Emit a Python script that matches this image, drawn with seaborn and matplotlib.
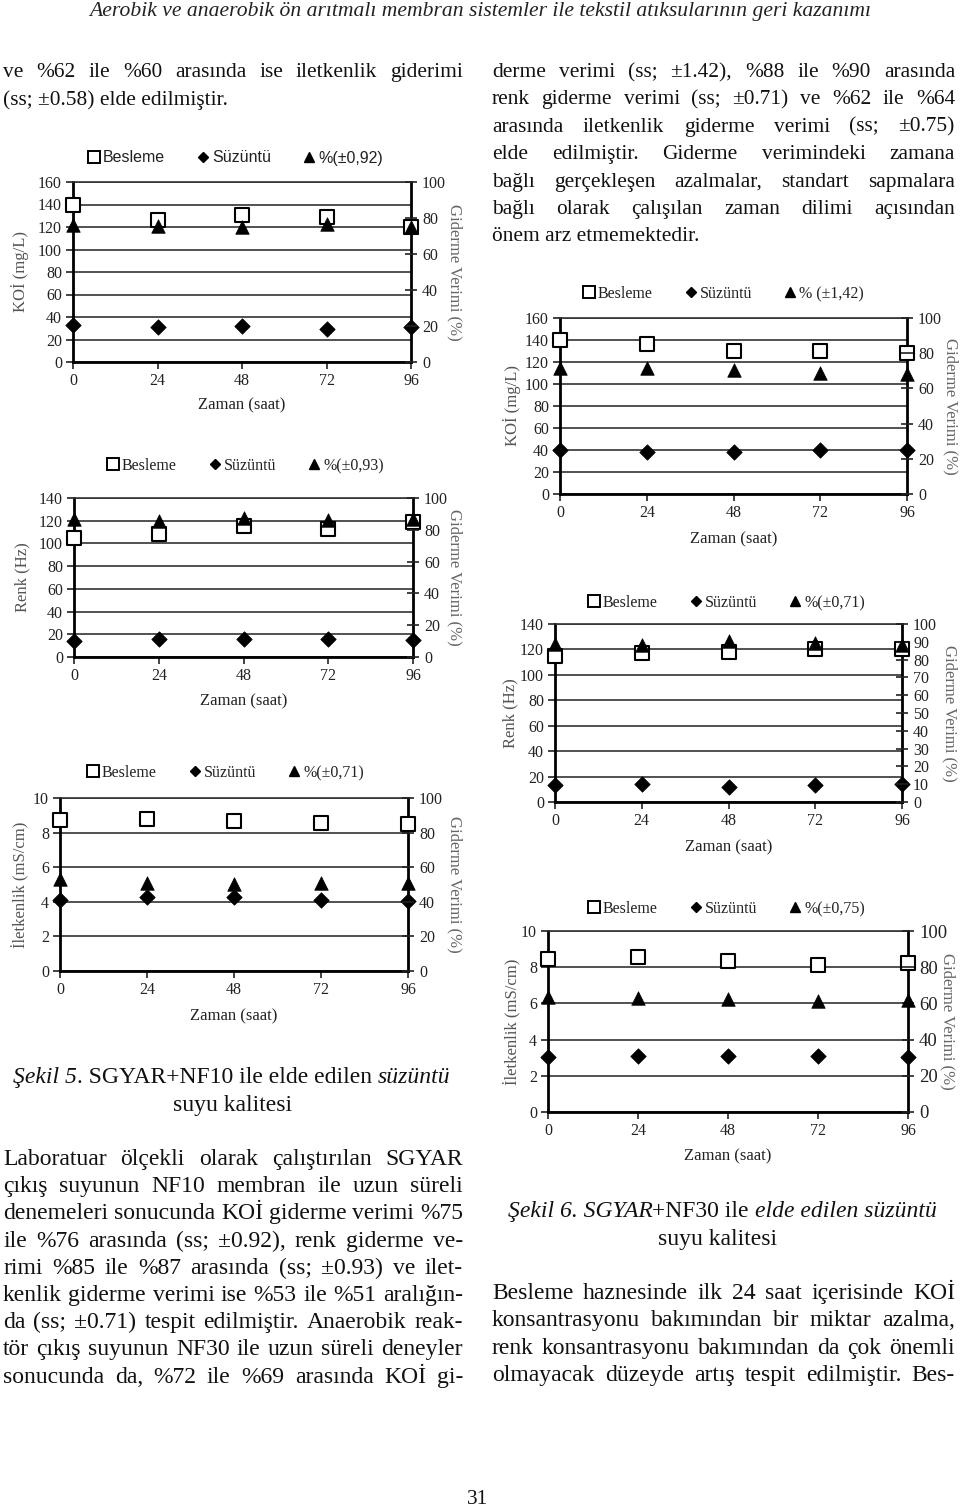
import matplotlib
matplotlib.use("Agg")
import matplotlib.pyplot as plt
from matplotlib.lines import Line2D
import seaborn as sns
import pandas as pd

# ---------------- data ----------------
hours = [0, 24, 48, 72, 96]

# Sekil 5 (SGYAR+NF10)
koi10_besleme = [140, 126, 131, 129, 120]
koi10_suzuntu = [33, 31, 32, 29, 31]
koi10_verim = [76, 75.5, 75, 76.5, 75]

renk10_besleme = [105, 108, 115, 113, 119]
renk10_suzuntu = [14, 16, 15.5, 16, 15]
renk10_verim = [86.7, 85.3, 87.4, 86.3, 86.8]

ilet10_besleme = [8.7, 8.8, 8.65, 8.55, 8.5]
ilet10_suzuntu = [4.1, 4.25, 4.3, 4.1, 4.05]
ilet10_verim = [53, 51, 50.5, 51, 51]

# Sekil 6 (SGYAR+NF30)
koi30_besleme = [140, 136, 130, 130, 128]
koi30_suzuntu = [40, 38.5, 38.5, 40, 40]
koi30_verim = [71.5, 71.5, 70.6, 69, 68.3]

renk30_besleme = [115, 117, 118, 120, 120]
renk30_suzuntu = [13.5, 14.5, 12, 13.5, 14.5]
renk30_verim = [88.9, 88.3, 90.2, 89.3, 88.3]

ilet30_besleme = [8.45, 8.55, 8.35, 8.1, 8.25]
ilet30_suzuntu = [3.05, 3.1, 3.1, 3.1, 3.05]
ilet30_verim = [63.8, 63.2, 62.5, 61.4, 61.9]

legend_labels = ["Besleme", "Süzüntü"]
verim_labels = ["%(±0,92)", "%(±0,93)", "%(±0,71)", "% (±1,42)", "%(±0,71)", "%(±0,75)"]
left_labels = ["KOİ (mg/L)", "Renk (Hz)", "İletkenlik (mS/cm)"]
right_label = "Giderme Verimi (%)"
x_label = "Zaman (saat)"

header = "Aerobik ve anaerobik ön arıtmalı membran sistemler ile tekstil atıksularının geri kazanımı"
left_top = ["ve %62 ile %60 arasında ise iletkenlik giderimi",
            "(ss; ±0.58) elde edilmiştir."]
right_top = ["derme verimi (ss; ±1.42), %88 ile %90 arasında",
             "renk giderme verimi (ss; ±0.71) ve %62 ile %64",
             "arasında iletkenlik giderme verimi (ss; ±0.75)",
             "elde edilmiştir. Giderme verimindeki zamana",
             "bağlı gerçekleşen azalmalar, standart sapmalara",
             "bağlı olarak çalışılan zaman dilimi açısından",
             "önem arz etmemektedir."]
left_bottom = ["Laboratuar ölçekli olarak çalıştırılan SGYAR",
               "çıkış suyunun NF10 membran ile uzun süreli",
               "denemeleri sonucunda KOİ giderme verimi %75",
               "ile %76 arasında (ss; ±0.92), renk giderme ve-",
               "rimi %85 ile %87 arasında (ss; ±0.93) ve ilet-",
               "kenlik giderme verimi ise %53 ile %51 aralığın-",
               "da (ss; ±0.71) tespit edilmiştir. Anaerobik reak-",
               "tör çıkış suyunun NF30 ile uzun süreli deneyler",
               "sonucunda da, %72 ile %69 arasında KOİ gi-"]
right_bottom = ["Besleme haznesinde ilk 24 saat içerisinde KOİ",
                "konsantrasyonu bakımından bir miktar azalma,",
                "renk konsantrasyonu bakımından da çok önemli",
                "olmayacak düzeyde artış tespit edilmiştir. Bes-"]

# ---------------- setup ----------------
sns.set_theme(style="white")
SERIF = ["Liberation Serif", "DejaVu Serif"]
SANS = ["Liberation Sans", "DejaVu Sans"]
plt.rcParams["font.family"] = SERIF

W, H = 960, 1506
fig = plt.figure(figsize=(W / 100, H / 100), dpi=100)
fig.patch.set_facecolor("white")
renderer = fig.canvas.get_renderer()


def fx(x):
    return x / W


def fy(y):
    return 1 - y / H


def text_width(s, **kw):
    t = fig.text(0, 0, s, **kw)
    w = t.get_window_extent(renderer).width
    t.remove()
    return w


BODY_TOP = dict(fontsize=15.4, family=SERIF, color="#111111")
BODY_BOT = dict(fontsize=17.0, family=SERIF, color="#111111")
CAP = dict(fontsize=17.0, family=SERIF, color="#111111")


def draw_line(line, x0, x1, y, justify=True, **kw):
    words = line.split(" ")
    if not justify or len(words) == 1:
        fig.text(fx(x0), fy(y), line, ha="left", va="baseline", **kw)
        return
    widths = [text_width(w, **kw) for w in words]
    gap = (x1 - x0 - sum(widths)) / (len(words) - 1)
    x = x0
    for w, wd in zip(words, widths):
        fig.text(fx(x), fy(y), w, ha="left", va="baseline", **kw)
        x += wd + gap


def draw_paragraph(lines, x0, x1, y0, step, last_justified=True, **kw):
    for i, ln in enumerate(lines):
        just = True if (i < len(lines) - 1 or last_justified) else False
        draw_line(ln, x0, x1, y0 + i * step, justify=just, **kw)


def draw_runs(runs, cx, y, **kw):
    space = text_width("a a", **kw) - text_width("aa", **kw)
    widths = []
    for txt, ital, sp in runs:
        widths.append(text_width(txt, style="italic" if ital else "normal", **kw))
    total = sum(widths) + space * sum(1 for r in runs if r[2])
    x = cx - total / 2
    for (txt, ital, sp), wd in zip(runs, widths):
        fig.text(fx(x), fy(y), txt, ha="left", va="baseline",
                 style="italic" if ital else "normal", **kw)
        x += wd + (space if sp else 0)


# header (fit to width)
hw = text_width(header, fontsize=12, style="italic", family=SERIF)
hfs = 12 * 780 / hw
fig.text(fx(480), fy(16), header, ha="center", va="baseline", fontsize=hfs,
         style="italic", family=SERIF, color="#222222")

# body text
draw_paragraph(left_top, 3, 463, 77, 27.5, last_justified=False, **BODY_TOP)
draw_paragraph(right_top, 492, 955, 77, 27.4, last_justified=False, **BODY_TOP)
draw_paragraph(left_bottom, 3, 463, 1165, 27.2, last_justified=True, **BODY_BOT)
draw_paragraph(right_bottom, 492, 955, 1299, 27.3, last_justified=True, **BODY_BOT)

draw_runs([("Şekil 5", True, False), (". SGYAR+NF10 ile elde edilen", False, True),
           ("süzüntü", True, False)], 232, 1083, **CAP)
draw_runs([("suyu kalitesi", False, False)], 233, 1111, **CAP)
draw_runs([("Şekil 6. SGYAR", True, False), ("+NF30 ile", False, True),
           ("elde edilen süzüntü", True, False)], 722, 1217, **CAP)
draw_runs([("suyu kalitesi", False, False)], 718, 1245, **CAP)

fig.text(fx(478), fy(1504), "31", ha="center", va="baseline", **BODY_TOP)

# ---------------- charts ----------------
charts = [
    dict(box=(73, 411, 182, 362), ymax=160, ystep=20, rstep=20, yl=left_labels[0],
         data=(koi10_besleme, koi10_suzuntu, koi10_verim), vlab=verim_labels[0],
         leg=(235, 158), legfont=SANS, ylx=20, rlx=455, xly=405, rfs=11.5),
    dict(box=(74, 413, 498, 657), ymax=140, ystep=20, rstep=20, yl=left_labels[1],
         data=(renk10_besleme, renk10_suzuntu, renk10_verim), vlab=verim_labels[1],
         leg=(245, 466), legfont=SERIF, ylx=22, rlx=455, xly=701, rfs=11.5),
    dict(box=(60, 408, 798, 971), ymax=10, ystep=2, rstep=20, yl=left_labels[2],
         data=(ilet10_besleme, ilet10_suzuntu, ilet10_verim), vlab=verim_labels[2],
         leg=(225, 773), legfont=SERIF, ylx=20, rlx=455, xly=1016, rfs=11.5),
    dict(box=(560, 907, 318, 494), ymax=160, ystep=20, rstep=20, yl=left_labels[0],
         data=(koi30_besleme, koi30_suzuntu, koi30_verim), vlab=verim_labels[3],
         leg=(723, 294), legfont=SERIF, ylx=512, rlx=951, xly=539, rfs=11.5),
    dict(box=(555, 902, 624, 802), ymax=140, ystep=20, rstep=10, yl=left_labels[1],
         data=(renk30_besleme, renk30_suzuntu, renk30_verim), vlab=verim_labels[4],
         leg=(726, 603), legfont=SERIF, ylx=510, rlx=950, xly=847, rfs=11.5),
    dict(box=(548, 908, 931, 1112), ymax=10, ystep=2, rstep=20, yl=left_labels[2],
         data=(ilet30_besleme, ilet30_suzuntu, ilet30_verim), vlab=verim_labels[5],
         leg=(726, 909), legfont=SERIF, ylx=512, rlx=948, xly=1156, rfs=13.5),
]

TICKFS = 11.5
LABFS = 12
for c in charts:
    x0, x1, yt, yb = c["box"]
    ax = fig.add_axes([fx(x0), fy(yb), (x1 - x0) / W, (yb - yt) / H])
    bes, suz, ver = c["data"]
    df = pd.DataFrame({"Zaman": hours, "Besleme": bes, "Süzüntü": suz, "Verim": ver})

    sns.scatterplot(data=df, x="Zaman", y="Besleme", marker="s", s=95,
                    facecolor="white", edgecolor="black", linewidth=1.5,
                    ax=ax, clip_on=False, zorder=4)
    sns.scatterplot(data=df, x="Zaman", y="Süzüntü", marker="D", s=62,
                    color="black", edgecolor="black", linewidth=0.5,
                    ax=ax, clip_on=False, zorder=4)
    ax.set_xlim(0, 96)
    ax.set_ylim(0, c["ymax"])
    ax.set_xticks(hours)
    ax.set_yticks(range(0, c["ymax"] + 1, c["ystep"]))
    ax.yaxis.grid(True, color="#333333", lw=1.2)
    ax.set_axisbelow(True)
    ax.set_xlabel("")
    ax.set_ylabel("")
    ax.tick_params(axis="both", labelsize=TICKFS, colors="#222222", length=5,
                   width=1.2, direction="out", pad=3)
    ax.tick_params(axis="y", left=True)
    ax.tick_params(axis="x", bottom=True)
    for sp in ["left", "bottom", "right"]:
        ax.spines[sp].set_color("black")
        ax.spines[sp].set_linewidth(2)
    ax.spines["top"].set_color("#333333")
    ax.spines["top"].set_linewidth(1.2)

    ax2 = ax.twinx()
    sns.scatterplot(data=df, x="Zaman", y="Verim", marker="^", s=95,
                    color="black", edgecolor="black", linewidth=0.5,
                    ax=ax2, clip_on=False, zorder=5)
    ax2.set_ylim(0, 100)
    ax2.set_yticks(range(0, 101, c["rstep"]))
    ax2.set_ylabel("")
    ax2.grid(False)
    ax2.tick_params(axis="y", right=True, labelsize=c["rfs"], colors="#222222",
                    length=8, width=1.2, direction="inout", pad=4)
    for sp in ax2.spines.values():
        sp.set_visible(False)

    cy = (yt + yb) / 2
    fig.text(fx(c["ylx"]), fy(cy), c["yl"], rotation=90, ha="center", va="center",
             fontsize=LABFS, color="#555555", family=SERIF)
    fig.text(fx(c["rlx"]), fy(cy), right_label, rotation=270, ha="center", va="center",
             fontsize=LABFS, color="#666666", family=SERIF)
    fig.text(fx((x0 + x1) / 2), fy(c["xly"]), x_label, ha="center", va="center",
             fontsize=LABFS, color="#222222", family=SERIF)

    handles = [
        Line2D([], [], ls="none", marker="s", ms=8, mfc="white", mec="black", mew=1.4),
        Line2D([], [], ls="none", marker="D", ms=5.5, mfc="black", mec="black"),
        Line2D([], [], ls="none", marker="^", ms=7.5, mfc="black", mec="black"),
    ]
    lx, ly = c["leg"]
    fig.legend(handles, legend_labels + [c["vlab"]], loc="center",
               bbox_to_anchor=(fx(lx), fy(ly)), ncol=3, frameon=False,
               handlelength=0.8, handletextpad=0.15, columnspacing=2.0,
               prop={"family": c["legfont"], "size": 11.5}, labelcolor="#222222")

fig.savefig("out.png", dpi=100, facecolor="white")
